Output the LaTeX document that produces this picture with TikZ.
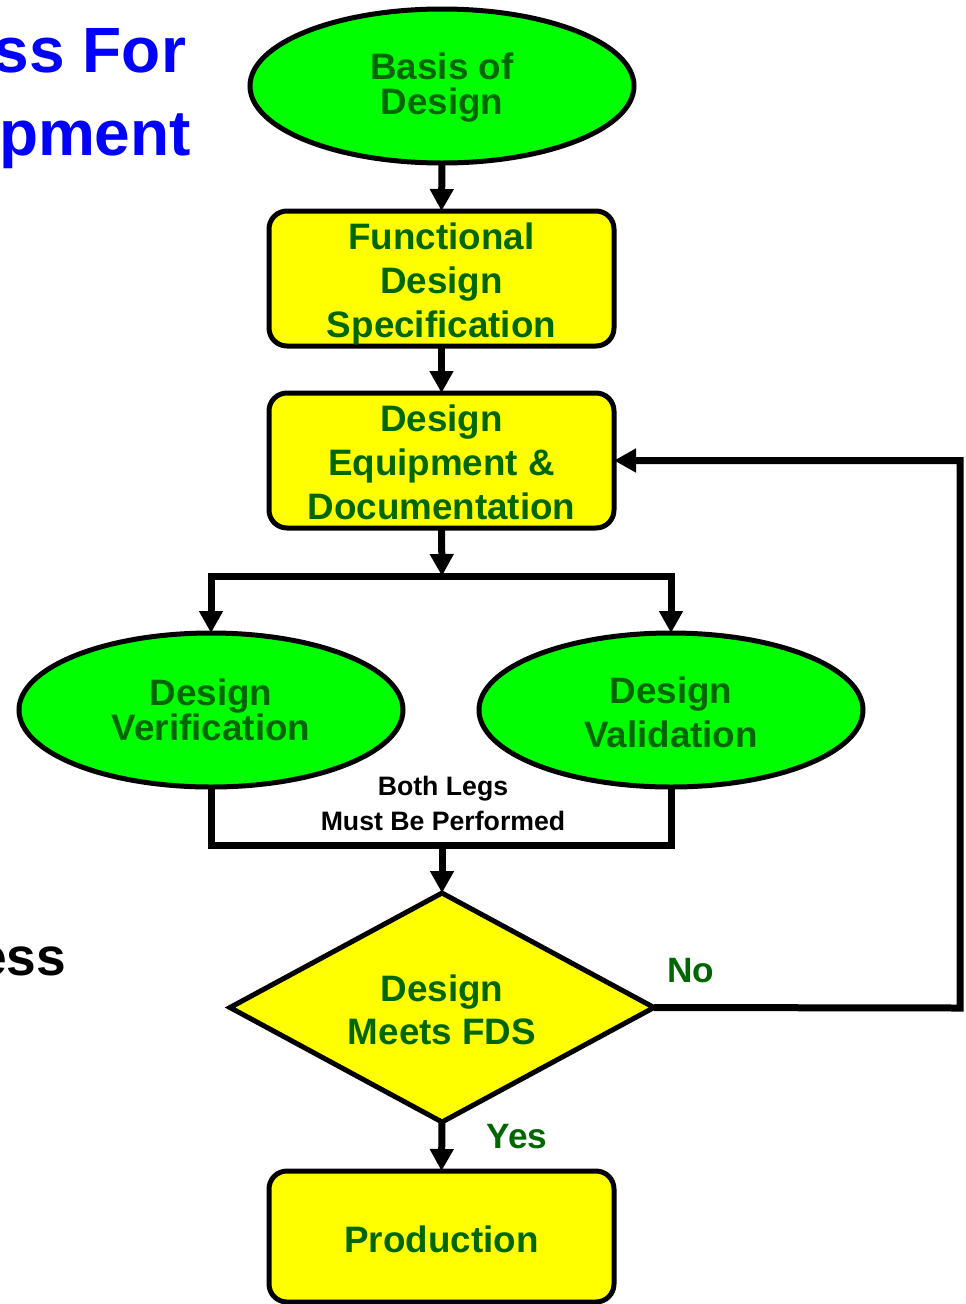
\documentclass[tikz,border=0pt]{standalone}
\usepackage{fontspec}
\setmainfont{Liberation Sans}
\usetikzlibrary{shapes.geometric,arrows.meta}
\definecolor{leaf}{HTML}{00FF00}
\definecolor{lemon}{HTML}{FFFF00}
\definecolor{darkleaf}{HTML}{006600}
\definecolor{titleblue}{HTML}{0000FF}
\tikzset{
  every node/.style={inner sep=0pt, outer sep=0pt},
  oval/.style={ellipse, draw=black, line width=3.75pt, fill=leaf,
    minimum width=288pt, minimum height=115.5pt, align=center,
    text=darkleaf, font=\bfseries\fontsize{27.6}{26.25}\selectfont},
  oval wide/.style={oval, font=\bfseries\fontsize{27.6}{33}\selectfont},
  stepbox/.style={rectangle, rounded corners=13.5pt, draw=black, line width=3.75pt,
    fill=lemon, minimum width=258.75pt, minimum height=101.25pt, align=center,
    text=darkleaf, font=\bfseries\fontsize{27.6}{33}\selectfont},
  boxtext/.style={align=center, text=darkleaf, font=\bfseries\fontsize{27.6}{33}\selectfont},
  decide/.style={diamond, aspect=1.85, draw=black, line width=3.75pt, fill=lemon,
    minimum width=318pt, minimum height=171.75pt, align=center,
    text=darkleaf, font=\bfseries\fontsize{27.6}{32.25}\selectfont},
  conn/.style={draw=black, line width=5.25pt},
  flow/.style={conn, -{Triangle[length=16.5pt, width=17pt]}},
  answer/.style={text=darkleaf, font=\bfseries\fontsize{26.4}{30}\selectfont},
  note/.style={align=center, text=black, font=\bfseries\fontsize{20}{26.25}\selectfont},
  heading/.style={anchor=base east, text=titleblue, font=\bfseries\fontsize{48}{52}\selectfont},
}
\begin{document}
\begin{tikzpicture}[x=0.75pt, y=-0.75pt]
\useasboundingbox (0,0) rectangle (965,1304);

% title fragments at the left edge
\node[heading] (t1) at (186,72) {ss For};
\node[heading] (t2) at (191,155) {pment};
\node[heading, text=black, font=\bfseries\fontsize{40}{44}\selectfont] (t3) at (66,975) {ess};

% flow chart nodes
\node[oval, label={[boxtext, font=\bfseries\fontsize{27.6}{26.25}\selectfont, yshift=-1.5pt]center:{Basis of\\Design}}] (basis) at (442,86) {};
\node[stepbox, label={[boxtext, yshift=-3.75pt]center:{Functional\\Design\\Specification}}] (fds) at (441.5,278.5) {};
\node[stepbox, label={[boxtext, yshift=-1.5pt]center:{Design\\Equipment \&\\Documentation}}] (dev) at (441.5,460.5) {};
\node[oval] (ver) at (211,710) {Design\\Verification};
\node[oval wide, label={[boxtext, yshift=-1.9pt]center:{Design\\Validation}}] (val) at (671,710) {};
\node[decide, label={[boxtext, font=\bfseries\fontsize{27.6}{32.25}\selectfont, yshift=-1.5pt]center:{Design\\Meets FDS}}] (dia) at (442,1007.5) {};
\node[stepbox, minimum height=98.25pt, label={[boxtext, yshift=-2.25pt]center:{Production}}] (prod) at (441.5,1236.5) {};

% junction points
\coordinate (split) at (442,576);
\coordinate (join) at (442,845);
\coordinate (loopc) at (960,1008);

% connectors
\draw[flow] (basis.south) -- (fds.north);
\draw[flow] (fds.south) -- (dev.north);
\draw[flow] (dev.south) -- (split);
\draw[flow] (split) -| (ver.north);
\draw[flow] (split) -| (val.north);
\draw[conn] (ver.south) |- (join) -| (val.south);
\draw[flow] (join) -- (dia.north);
\draw[flow] (dia.south) -- (prod.north);
\draw[flow] (dia.east) -- (loopc) |- (dev.east);

% labels
\node[note] (legs) at (443,803) {Both Legs\\Must Be Performed};
\node[answer] (no) at (691,971) {No};
\node[answer] (yes) at (517,1137) {Yes};
\end{tikzpicture}
\end{document}
